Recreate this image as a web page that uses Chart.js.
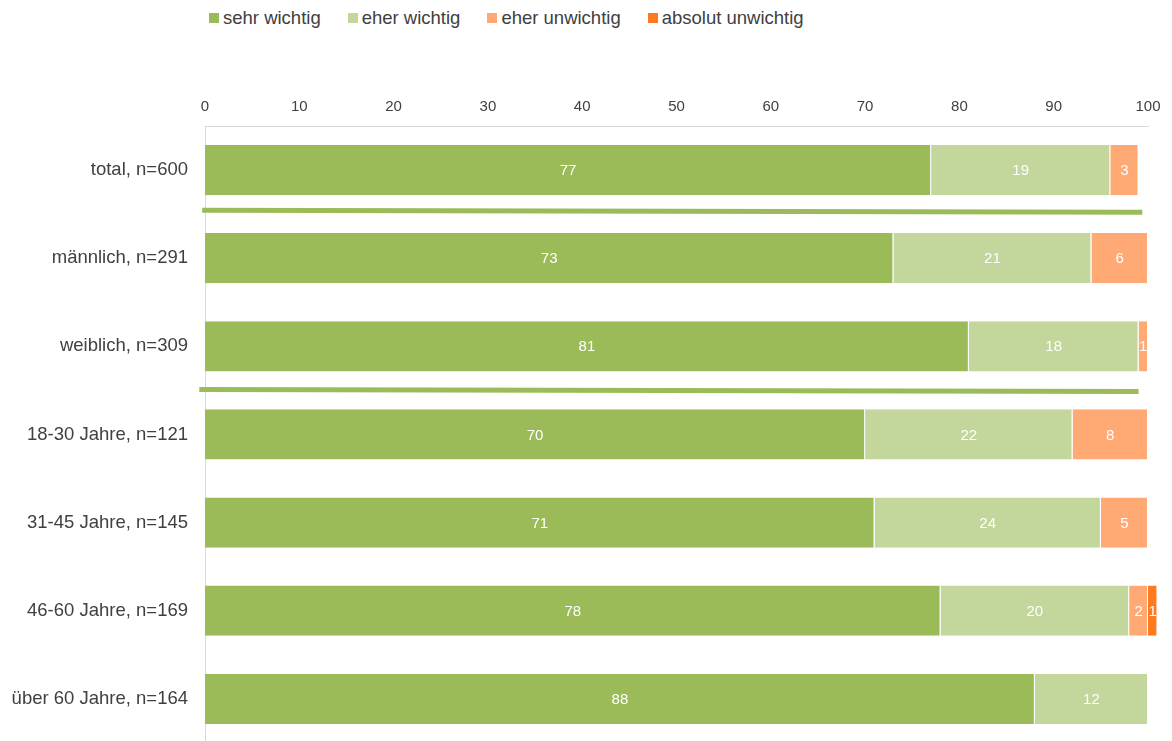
<!DOCTYPE html>
<html lang="de">
<head>
<meta charset="utf-8">
<title>Wichtigkeit nach Gruppen</title>
<script src="https://cdn.jsdelivr.net/npm/chart.js@4/dist/chart.umd.min.js"></script>
<style>
  html, body { margin: 0; padding: 0; background: #fff; overflow: hidden; }
  body { width: 1172px; height: 741px; position: relative; font-family: "Liberation Sans", Arial, sans-serif; }
  #legend { position: absolute; left: 209px; top: 8px; display: flex; align-items: center; font-size: 18.5px; line-height: 20px; color: #404040; }
  #legend .item { display: flex; align-items: center; margin-right: 27px; }
  #legend .box { width: 10px; height: 10px; margin-right: 4px; }
  #chart { position: absolute; left: 0; top: 0; }
</style>
</head>
<body>
<div id="legend"></div>
<canvas id="chart" width="1172" height="771"></canvas>
<script>
// groups and answer shares in percent
const categories = [
  'total, n=600',
  'männlich, n=291',
  'weiblich, n=309',
  '18-30 Jahre, n=121',
  '31-45 Jahre, n=145',
  '46-60 Jahre, n=169',
  'über 60 Jahre, n=164'
];
const seriesNames = ['sehr wichtig', 'eher wichtig', 'eher unwichtig', 'absolut unwichtig'];
const sehrWichtig = [77, 73, 81, 70, 71, 78, 88];
const eherWichtig = [19, 21, 18, 22, 24, 20, 12];
const eherUnwichtig = [3, 6, 1, 8, 5, 2, 0];
const absolutUnwichtig = [0, 0, 0, 0, 0, 1, 0];
const xMin = 0;
const xMax = 100;
const xStep = 10;

const colors = ['#9BBB59', '#C3D69B', '#FFAA74', '#FF7A1E'];
const textColor = '#404040';
const fontFamily = '"Liberation Sans", Arial, sans-serif';

// green divider lines between the blocks (after row index, x range in axis units)
const dividers = [
  { after: 0, from: -0.3, to: 99.4, shift: -3 },
  { after: 2, from: -0.6, to: 99.0, shift: 0 }
];

// html legend
const legendEl = document.getElementById('legend');
seriesNames.forEach((name, i) => {
  const item = document.createElement('span');
  item.className = 'item';
  const box = document.createElement('span');
  box.className = 'box';
  box.style.background = colors[i];
  item.appendChild(box);
  item.appendChild(document.createTextNode(name));
  legendEl.appendChild(item);
});

// white value labels centred on each segment
const valueLabels = {
  id: 'valueLabels',
  afterDatasetsDraw(chart) {
    const ctx = chart.ctx;
    ctx.save();
    ctx.font = '15px ' + fontFamily;
    ctx.fillStyle = '#ffffff';
    ctx.textAlign = 'center';
    ctx.textBaseline = 'middle';
    chart.data.datasets.forEach((ds, i) => {
      const meta = chart.getDatasetMeta(i);
      meta.data.forEach((bar, j) => {
        const v = ds.data[j];
        if (!v) return;
        const p = bar.getProps(['x', 'y', 'base'], true);
        ctx.fillText(String(v), (p.x + p.base) / 2, p.y + 1);
      });
    });
    ctx.restore();
  }
};

const dividerLines = {
  id: 'dividerLines',
  afterDatasetsDraw(chart) {
    const ctx = chart.ctx;
    const xs = chart.scales.x;
    const ys = chart.scales.y;
    ctx.save();
    ctx.strokeStyle = colors[0];
    ctx.lineWidth = 5;
    dividers.forEach(d => {
      const y = (ys.getPixelForValue(d.after) + ys.getPixelForValue(d.after + 1)) / 2 + d.shift;
      ctx.beginPath();
      ctx.moveTo(xs.getPixelForValue(d.from), y - 1);
      ctx.lineTo(xs.getPixelForValue(d.to), y + 1);
      ctx.stroke();
    });
    ctx.restore();
  }
};

const seriesData = [sehrWichtig, eherWichtig, eherUnwichtig, absolutUnwichtig];

new Chart(document.getElementById('chart'), {
  type: 'bar',
  data: {
    labels: categories,
    datasets: seriesData.map((d, i) => ({
      label: seriesNames[i],
      data: d,
      backgroundColor: colors[i],
      borderColor: '#ffffff',
      borderWidth: { top: 0, right: 1, bottom: 0, left: 0 },
      borderSkipped: false,
      barPercentage: 0.57,
      categoryPercentage: 1,
      clip: false
    }))
  },
  options: {
    indexAxis: 'y',
    responsive: false,
    animation: false,
    devicePixelRatio: 1,
    layout: { padding: { top: 88, right: 24, bottom: 0, left: 0 } },
    plugins: {
      legend: { display: false },
      tooltip: { enabled: false }
    },
    scales: {
      x: {
        position: 'top',
        stacked: true,
        min: xMin,
        max: xMax,
        grid: { display: false, drawTicks: false },
        border: { display: true, color: '#D9D9D9', width: 1 },
        ticks: {
          stepSize: xStep,
          padding: 10,
          color: textColor,
          font: { family: fontFamily, size: 15 }
        }
      },
      y: {
        stacked: true,
        grid: { display: false, drawTicks: false },
        border: { display: true, color: '#D9D9D9', width: 1 },
        ticks: {
          padding: 17,
          color: textColor,
          font: { family: fontFamily, size: 18.5 }
        },
        afterFit(scale) { scale.width = 205; }
      }
    }
  },
  plugins: [valueLabels, dividerLines]
});
</script>
</body>
</html>
